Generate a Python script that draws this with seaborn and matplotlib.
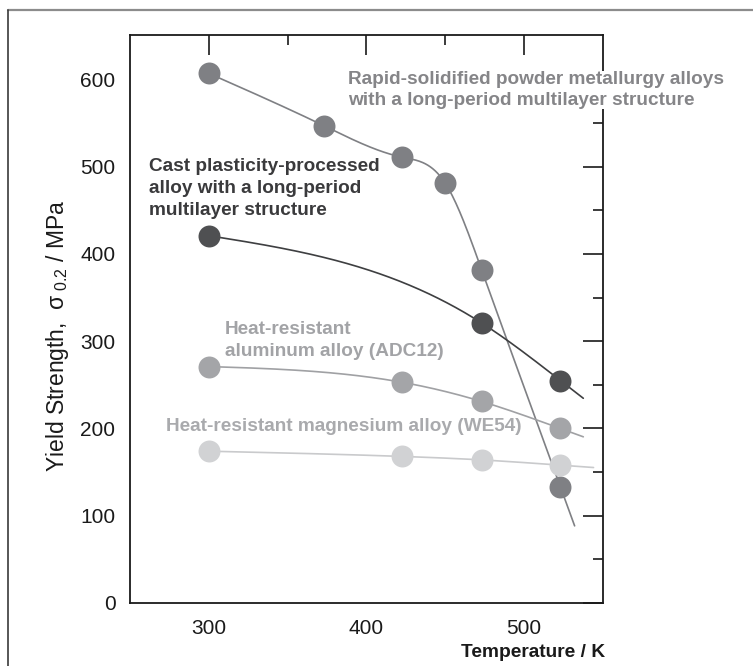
import numpy as np
import pandas as pd
import matplotlib
matplotlib.use("Agg")
import matplotlib.pyplot as plt
import seaborn as sns
from matplotlib.ticker import FixedLocator

# ---------------- data ----------------
series_names = ["Rapid", "Cast", "ADC12", "WE54"]

rapid_T = [300, 373, 422.5, 450, 473, 523]
rapid_Y = [607, 547, 511, 481, 382, 133]

cast_T = [300, 473, 523]
cast_Y = [421, 321, 255]

adc12_T = [300, 422.5, 473, 523]
adc12_Y = [271, 253, 231, 200]

we54_T = [300, 422.5, 473, 523]
we54_Y = [174, 168, 164, 158]

curve_end_T = [532, 537.5, 537.5, 544]

labels = [
    "Rapid-solidified powder metallurgy alloys\nwith a long-period multilayer structure",
    "Cast plasticity-processed\nalloy with a long-period\nmultilayer structure",
    "Heat-resistant\naluminum alloy (ADC12)",
    "Heat-resistant magnesium alloy (WE54)",
]

x_major = [300, 400, 500]
x_minor = [350, 450]
y_major = [0, 100, 200, 300, 400, 500, 600]
y_minor = [50, 150, 250, 350, 450, 550]

marker_colors = ["#7f8084", "#4f5052", "#a4a5a8", "#d1d2d4"]
line_colors = ["#7f8084", "#3e3f41", "#a0a1a4", "#c9cacc"]
text_colors = ["#858588", "#3a3a3c", "#a2a3a6", "#a9aaad"]


def natural_spline(x, y, xs):
    x = np.asarray(x, float)
    y = np.asarray(y, float)
    n = len(x)
    h = np.diff(x)
    A = np.zeros((n, n))
    b = np.zeros(n)
    A[0, 0] = 1
    A[-1, -1] = 1
    for i in range(1, n - 1):
        A[i, i - 1] = h[i - 1]
        A[i, i] = 2 * (h[i - 1] + h[i])
        A[i, i + 1] = h[i]
        b[i] = 3 * ((y[i + 1] - y[i]) / h[i] - (y[i] - y[i - 1]) / h[i - 1])
    c = np.linalg.solve(A, b)
    bb = np.array([(y[i + 1] - y[i]) / h[i] - h[i] * (2 * c[i] + c[i + 1]) / 3 for i in range(n - 1)])
    d = np.array([(c[i + 1] - c[i]) / (3 * h[i]) for i in range(n - 1)])
    out = np.empty_like(xs)
    for k, xv in enumerate(xs):
        if xv >= x[-1]:
            i = n - 2
            hh = h[i]
            slope = bb[i] + 2 * c[i] * hh + 3 * d[i] * hh ** 2
            out[k] = y[-1] + slope * (xv - x[-1])
        else:
            i = max(0, min(n - 2, np.searchsorted(x, xv) - 1))
            dx = xv - x[i]
            out[k] = y[i] + bb[i] * dx + c[i] * dx ** 2 + d[i] * dx ** 3
    return out


all_T = [rapid_T, cast_T, adc12_T, we54_T]
all_Y = [rapid_Y, cast_Y, adc12_Y, we54_Y]

pts = pd.concat(
    [pd.DataFrame({"T": t, "Y": y, "series": s}) for t, y, s in zip(all_T, all_Y, series_names)],
    ignore_index=True,
)
curves = []
for t, y, s, te in zip(all_T, all_Y, series_names, curve_end_T):
    xs = np.linspace(t[0], te, 300)
    curves.append(pd.DataFrame({"T": xs, "Y": natural_spline(t, y, xs), "series": s}))
curves = pd.concat(curves, ignore_index=True)

# ---------------- figure ----------------
sns.set_style("white")
plt.rcParams["font.family"] = ["Liberation Sans", "DejaVu Sans"]
plt.rcParams["mathtext.fontset"] = "custom"
plt.rcParams["mathtext.rm"] = "Liberation Sans"
plt.rcParams["mathtext.it"] = "Liberation Sans:italic"

W, H = 753, 666
fig = plt.figure(figsize=(W / 100, H / 100), dpi=100)
ax = fig.add_axes([130 / W, (H - 603) / H, (603 - 130) / W, (603 - 35) / H])

# outer frame
fig.add_artist(plt.Line2D([8 / W, 1.0], [1 - 10 / H, 1 - 10 / H], transform=fig.transFigure,
                          color="#8c8c8c", lw=1.6))
fig.add_artist(plt.Line2D([8 / W, 8 / W], [0, 1 - 10 / H], transform=fig.transFigure,
                          color="#3a3a3a", lw=1.2))

line_pal = dict(zip(series_names, line_colors))
mark_pal = dict(zip(series_names, marker_colors))

for s in series_names:
    sub = curves[curves.series == s]
    sns.lineplot(data=sub, x="T", y="Y", color=line_pal[s], lw=1.2, ax=ax,
                 legend=False, sort=False, estimator=None, zorder=2)
for s in series_names:
    sub = pts[pts.series == s]
    sns.scatterplot(data=sub, x="T", y="Y", color=mark_pal[s], s=250, linewidth=0,
                    ax=ax, legend=False, zorder=3)

ax.set_xlim(250, 550)
ax.set_ylim(0, 651)
ax.xaxis.set_major_locator(FixedLocator(x_major))
ax.xaxis.set_minor_locator(FixedLocator(x_minor))
ax.yaxis.set_major_locator(FixedLocator(y_major))
ax.yaxis.set_minor_locator(FixedLocator(y_minor))
ax.tick_params(which="both", direction="in", top=True, right=True, color="#1a1a1a",
               width=1.2, labelsize=15, labelcolor="#1a1a1a")
ax.tick_params(which="major", length=14.5)
ax.tick_params(which="minor", length=7)
ax.tick_params(axis="y", which="major", pad=10.5)
ax.tick_params(axis="x", which="major", pad=11.5)
for sp in ax.spines.values():
    sp.set_color("#1a1a1a")
    sp.set_linewidth(1.3)

ax.set_xlabel("Temperature / K", fontsize=13.8, fontweight="bold", color="#1a1a1a")
ax.xaxis.set_label_coords(1.005, -0.072)
ax.xaxis.label.set_ha("right")
ax.set_ylabel("Yield Strength,  $\\mathregular{\\sigma_{\\ 0.2}}$ / MPa", fontsize=16.5,
              color="#1a1a1a")
ax.yaxis.set_label_coords(-0.125, 0.47)

text_pos = [(388.3, 588), (261.9, 475), (310, 301), (272.7, 202)]
text_ls = [1.25, 1.37, 1.42, 1.2]
for lab, (tx, ty), col, ls in zip(labels, text_pos, text_colors, text_ls):
    t = ax.text(tx, ty, lab, color=col, fontsize=13.7, fontweight="bold", ha="left",
                va="center", linespacing=ls, clip_on=False, zorder=5)
    if lab.startswith("Rapid"):
        t.set_bbox(dict(facecolor="white", edgecolor="none", pad=0.5))

fig.savefig("out.png", dpi=100)
